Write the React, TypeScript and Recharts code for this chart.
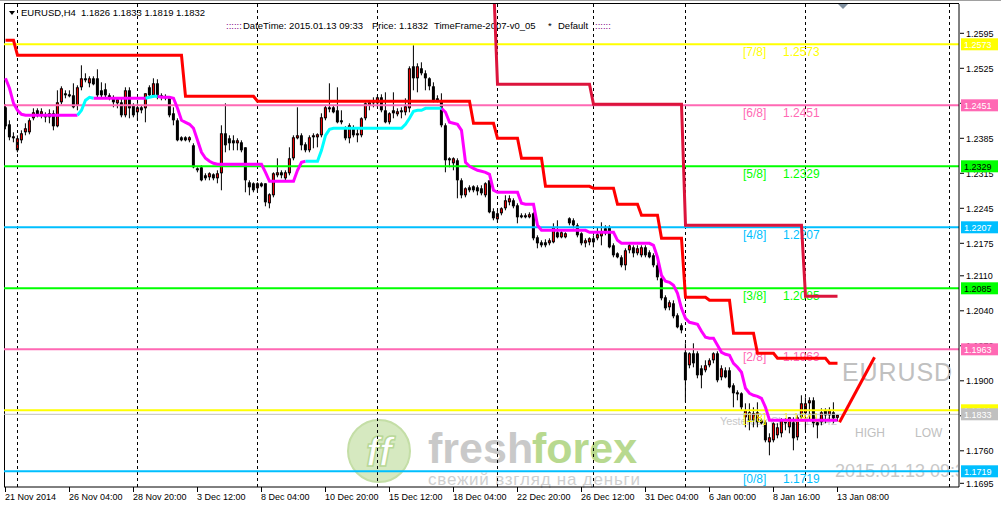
import React from 'react'
import { ComposedChart, Bar, Line, XAxis, YAxis, ReferenceLine } from 'recharts'

const W = 1001
const H = 507
const FONT = "'Liberation Sans', Arial, sans-serif"

// x axis: H4 bar index, a label every 16 bars
const timeTickBars = [0, 16, 32, 48, 64, 80, 96, 112, 128, 144, 160, 176, 192, 208]
const timeLabels = [
  '21 Nov 2014', '26 Nov 04:00', '28 Nov 20:00', '3 Dec 12:00', '8 Dec 04:00', '10 Dec 20:00',
  '15 Dec 12:00', '18 Dec 04:00', '22 Dec 20:00', '26 Dec 12:00', '31 Dec 04:00', '6 Jan 00:00',
  '8 Jan 16:00', '13 Jan 08:00',
]
// weekly separators (dashed)
const weekGridBars = [3, 33, 63, 93, 123, 147, 170, 200, 236]
const priceTicks = [1.2595, 1.2525, 1.2455, 1.2385, 1.2315, 1.2245, 1.2175, 1.211, 1.204, 1.197, 1.19, 1.183, 1.176, 1.1695]
const xDomain = [-0.375, 238.375]
const yDomain = [1.16876, 1.26536]

// EURUSD H4 candles
const opens = [
  1.2447, 1.2413, 1.2389, 1.2361, 1.2381, 1.2397, 1.2397, 1.2425, 1.2441, 1.2433,
  1.2433, 1.2427, 1.2435, 1.2409, 1.2457, 1.2475, 1.2473, 1.2471, 1.2451, 1.2487,
  1.2505, 1.2495, 1.2505, 1.2505, 1.2481, 1.2483, 1.2471, 1.2465, 1.2455, 1.2457,
  1.2431, 1.2481, 1.2451, 1.2437, 1.2447, 1.2445, 1.2487, 1.2471, 1.2495, 1.2471,
  1.2469, 1.2465, 1.2435, 1.2421, 1.2387, 1.2387, 1.2381, 1.2371, 1.2325, 1.2327,
  1.2311, 1.2307, 1.2313, 1.2305, 1.2315, 1.2395, 1.2385, 1.2381, 1.2375, 1.2377,
  1.2367, 1.2297, 1.2295, 1.2285, 1.2295, 1.2295, 1.2255, 1.2271, 1.2311, 1.2317,
  1.2305, 1.2315, 1.2345, 1.2385, 1.2391, 1.2373, 1.2361, 1.2387, 1.2387, 1.2391,
  1.2425, 1.2447, 1.2447, 1.2441, 1.2421, 1.2405, 1.2385, 1.2405, 1.2391, 1.2391,
  1.2425, 1.2451, 1.2457, 1.2455, 1.2467, 1.2441, 1.2417, 1.2441, 1.2433, 1.2441,
  1.2437, 1.2445, 1.2529, 1.2505, 1.2525, 1.2515, 1.2505, 1.2489, 1.2465, 1.2459,
  1.2411, 1.2345, 1.2335, 1.2341, 1.2301, 1.2271, 1.2287, 1.2289, 1.2287, 1.2285,
  1.2271, 1.2301, 1.2239, 1.2223, 1.2235, 1.2245, 1.2257, 1.2261, 1.2251, 1.2231,
  1.2227, 1.2227, 1.2235, 1.2187, 1.2177, 1.2177, 1.2175, 1.2177, 1.2197, 1.2187,
  1.2187, 1.2225, 1.2221, 1.2211, 1.2195, 1.2175, 1.2177, 1.2185, 1.2185, 1.2189,
  1.2205, 1.2207, 1.2171, 1.2155, 1.2147, 1.2131, 1.2161, 1.2167, 1.2155, 1.2151,
  1.2167, 1.2157, 1.2151, 1.2131, 1.2105, 1.2067, 1.2047, 1.2055, 1.2031, 1.2011,
  1.1957, 1.1931, 1.1955, 1.1955, 1.1925, 1.1921, 1.1931, 1.1941, 1.1955, 1.1907,
  1.1921, 1.1921, 1.1891, 1.1877, 1.1875, 1.1827, 1.1821, 1.1821, 1.1817, 1.1821,
  1.1817, 1.1777, 1.1781, 1.1791, 1.1795, 1.1821, 1.1807, 1.1817, 1.1787, 1.1827,
  1.1835, 1.1855, 1.1861, 1.1817, 1.1817, 1.1841, 1.1831, 1.1837, 1.1826,
]
const highs = [
  1.2453, 1.2421, 1.2397, 1.2391, 1.2401, 1.2415, 1.2425, 1.2445, 1.2445, 1.2445,
  1.2437, 1.2443, 1.2441, 1.2481, 1.2489, 1.2481, 1.2481, 1.2495, 1.2491, 1.2531,
  1.2515, 1.2509, 1.2509, 1.2523, 1.2497, 1.2495, 1.2475, 1.2471, 1.2465, 1.2465,
  1.2487, 1.2487, 1.2455, 1.2455, 1.2451, 1.2475, 1.2491, 1.2505, 1.2503, 1.2475,
  1.2473, 1.2465, 1.2447, 1.2425, 1.2389, 1.2389, 1.2389, 1.2375, 1.2327, 1.2331,
  1.2315, 1.2317, 1.2315, 1.2321, 1.2411, 1.2455, 1.2391, 1.2391, 1.2385, 1.2381,
  1.2367, 1.2301, 1.2297, 1.2297, 1.2297, 1.2295, 1.2275, 1.2317, 1.2345, 1.2321,
  1.2321, 1.2367, 1.2391, 1.2447, 1.2395, 1.2377, 1.2391, 1.2395, 1.2395, 1.2435,
  1.2451, 1.2495, 1.2451, 1.2487, 1.2441, 1.2409, 1.2415, 1.2411, 1.2405, 1.2427,
  1.2457, 1.2461, 1.2467, 1.2471, 1.2473, 1.2477, 1.2437, 1.2477, 1.2445, 1.2447,
  1.2465, 1.2529, 1.2571, 1.2535, 1.2537, 1.2521, 1.2507, 1.2497, 1.2471, 1.2475,
  1.2415, 1.2347, 1.2347, 1.2345, 1.2305, 1.2287, 1.2291, 1.2291, 1.2291, 1.2291,
  1.2297, 1.2301, 1.2245, 1.2241, 1.2247, 1.2271, 1.2271, 1.2265, 1.2255, 1.2235,
  1.2235, 1.2237, 1.2237, 1.2191, 1.2181, 1.2183, 1.2185, 1.2215, 1.2221, 1.2201,
  1.2197, 1.2227, 1.2225, 1.2215, 1.2197, 1.2185, 1.2187, 1.2191, 1.2207, 1.2217,
  1.2211, 1.2211, 1.2175, 1.2157, 1.2151, 1.2165, 1.2175, 1.2171, 1.2171, 1.2171,
  1.2171, 1.2161, 1.2155, 1.2137, 1.2109, 1.2071, 1.2061, 1.2061, 1.2035, 1.2015,
  1.1975, 1.1957, 1.1975, 1.1959, 1.1931, 1.1941, 1.1945, 1.1957, 1.1959, 1.1931,
  1.1927, 1.1927, 1.1895, 1.1881, 1.1877, 1.1855, 1.1855, 1.1847, 1.1857, 1.1825,
  1.1821, 1.1795, 1.1817, 1.1815, 1.1825, 1.1825, 1.1827, 1.1827, 1.1831, 1.1871,
  1.1867, 1.1867, 1.1867, 1.1821, 1.1845, 1.1845, 1.1847, 1.1857, 1.1833,
]
const lows = [
  1.2403, 1.2381, 1.2377, 1.2357, 1.2375, 1.2391, 1.2393, 1.2421, 1.2427, 1.2425,
  1.2417, 1.2415, 1.2401, 1.2407, 1.2453, 1.2465, 1.2467, 1.2445, 1.2441, 1.2481,
  1.2497, 1.2487, 1.2491, 1.2467, 1.2467, 1.2467, 1.2461, 1.2447, 1.2445, 1.2427,
  1.2427, 1.2425, 1.2427, 1.2421, 1.2435, 1.2417, 1.2467, 1.2467, 1.2463, 1.2461,
  1.2461, 1.2427, 1.2411, 1.2379, 1.2379, 1.2379, 1.2377, 1.2325, 1.2317, 1.2299,
  1.2301, 1.2301, 1.2301, 1.2295, 1.2281, 1.2357, 1.2361, 1.2361, 1.2361, 1.2357,
  1.2277, 1.2271, 1.2277, 1.2277, 1.2287, 1.2249, 1.2245, 1.2267, 1.2307, 1.2305,
  1.2301, 1.2311, 1.2341, 1.2383, 1.2361, 1.2357, 1.2357, 1.2365, 1.2367, 1.2387,
  1.2421, 1.2437, 1.2435, 1.2415, 1.2413, 1.2381, 1.2375, 1.2387, 1.2377, 1.2387,
  1.2421, 1.2441, 1.2447, 1.2447, 1.2437, 1.2415, 1.2413, 1.2425, 1.2429, 1.2425,
  1.2431, 1.2437, 1.2481, 1.2477, 1.2511, 1.2481, 1.2481, 1.2457, 1.2457, 1.2407,
  1.2317, 1.2327, 1.2321, 1.2265, 1.2265, 1.2267, 1.2277, 1.2277, 1.2271, 1.2271,
  1.2267, 1.2235, 1.2221, 1.2217, 1.2231, 1.2241, 1.2251, 1.2245, 1.2215, 1.2225,
  1.2225, 1.2225, 1.2181, 1.2165, 1.2167, 1.2167, 1.2171, 1.2175, 1.2185, 1.2185,
  1.2185, 1.2211, 1.2205, 1.2187, 1.2171, 1.2167, 1.2171, 1.2167, 1.2181, 1.2171,
  1.2191, 1.2165, 1.2147, 1.2145, 1.2127, 1.2121, 1.2155, 1.2147, 1.2151, 1.2147,
  1.2147, 1.2145, 1.2127, 1.2101, 1.2061, 1.2041, 1.2041, 1.2025, 1.2005, 1.1995,
  1.1857, 1.1925, 1.1927, 1.1905, 1.1885, 1.1917, 1.1927, 1.1935, 1.1897, 1.1901,
  1.1905, 1.1885, 1.1847, 1.1861, 1.1841, 1.1807, 1.1801, 1.1807, 1.1807, 1.1813,
  1.1777, 1.1751, 1.1777, 1.1785, 1.1787, 1.1801, 1.1795, 1.1761, 1.1781, 1.1821,
  1.1801, 1.1821, 1.1807, 1.1785, 1.1811, 1.1815, 1.1821, 1.1815, 1.1819,
]
const closes = [
  1.2409, 1.2387, 1.2385, 1.2385, 1.2395, 1.2405, 1.2421, 1.2437, 1.2431, 1.2439,
  1.2427, 1.2435, 1.2409, 1.2457, 1.2485, 1.2471, 1.2469, 1.2447, 1.2487, 1.2505,
  1.2501, 1.2505, 1.2493, 1.2471, 1.2471, 1.2471, 1.2465, 1.2457, 1.2463, 1.2431,
  1.2481, 1.2445, 1.2431, 1.2447, 1.2441, 1.2475, 1.2471, 1.2495, 1.2467, 1.2467,
  1.2465, 1.2431, 1.2421, 1.2381, 1.2381, 1.2381, 1.2387, 1.2327, 1.2321, 1.2301,
  1.2305, 1.2315, 1.2305, 1.2315, 1.2395, 1.2371, 1.2375, 1.2375, 1.2381, 1.2361,
  1.2301, 1.2287, 1.2281, 1.2295, 1.2289, 1.2257, 1.2273, 1.2315, 1.2317, 1.2311,
  1.2317, 1.2345, 1.2387, 1.2391, 1.2371, 1.2361, 1.2387, 1.2391, 1.2393, 1.2427,
  1.2447, 1.2443, 1.2437, 1.2417, 1.2417, 1.2385, 1.2411, 1.2391, 1.2395, 1.2425,
  1.2455, 1.2457, 1.2455, 1.2467, 1.2441, 1.2417, 1.2435, 1.2435, 1.2439, 1.2437,
  1.2449, 1.2525, 1.2505, 1.2529, 1.2515, 1.2505, 1.2489, 1.2461, 1.2459, 1.2411,
  1.2341, 1.2341, 1.2345, 1.2301, 1.2271, 1.2285, 1.2281, 1.2281, 1.2279, 1.2275,
  1.2295, 1.2237, 1.2225, 1.2235, 1.2245, 1.2261, 1.2265, 1.2249, 1.2227, 1.2227,
  1.2231, 1.2233, 1.2185, 1.2175, 1.2171, 1.2171, 1.2181, 1.2207, 1.2187, 1.2197,
  1.2195, 1.2215, 1.2211, 1.2191, 1.2175, 1.2181, 1.2185, 1.2177, 1.2193, 1.2197,
  1.2195, 1.2167, 1.2151, 1.2147, 1.2131, 1.2161, 1.2171, 1.2155, 1.2165, 1.2167,
  1.2151, 1.2147, 1.2131, 1.2107, 1.2065, 1.2045, 1.2057, 1.2029, 1.2007, 1.2001,
  1.1901, 1.1955, 1.1935, 1.1911, 1.1911, 1.1931, 1.1941, 1.1955, 1.1901, 1.1925,
  1.1907, 1.1887, 1.1875, 1.1873, 1.1847, 1.1841, 1.1837, 1.1835, 1.1837, 1.1815,
  1.1781, 1.1787, 1.1815, 1.1807, 1.1821, 1.1815, 1.1827, 1.1785, 1.1827, 1.1855,
  1.1855, 1.1861, 1.1815, 1.1811, 1.1837, 1.1831, 1.1841, 1.1825, 1.1832,
]

// colored moving average (cyan while rising)
const maLine = [
  1.2505, 1.2485, 1.2455, 1.2441, 1.2433, 1.2431, 1.2431, 1.2431, 1.2431, 1.2431,
  1.2431, 1.2431, 1.2431, 1.2431, 1.2431, 1.2431, 1.2431, 1.2431, 1.2431, 1.2441,
  1.2461, 1.2467, 1.2465, 1.2465, 1.2465, 1.2465, 1.2465, 1.2465, 1.2465, 1.2465,
  1.2465, 1.2465, 1.2465, 1.2465, 1.2465, 1.2465, 1.2467, 1.2469, 1.2469, 1.2467,
  1.2467, 1.2467, 1.2465, 1.2445, 1.2421, 1.2417, 1.2413, 1.2405, 1.2381, 1.2357,
  1.2345, 1.2339, 1.2335, 1.2333, 1.2333, 1.2333, 1.2333, 1.2333, 1.2333, 1.2333,
  1.2333, 1.2333, 1.2333, 1.2333, 1.2333, 1.2317, 1.2299, 1.2299, 1.2299, 1.2299,
  1.2299, 1.2299, 1.2299, 1.2321, 1.2337, 1.2339, 1.2339, 1.2339, 1.2339, 1.2361,
  1.2391, 1.2403, 1.2405, 1.2405, 1.2405, 1.2405, 1.2405, 1.2405, 1.2405, 1.2405,
  1.2405, 1.2405, 1.2405, 1.2405, 1.2405, 1.2405, 1.2405, 1.2405, 1.2405, 1.2405,
  1.2413, 1.2425, 1.2439, 1.2441, 1.2441, 1.2445, 1.2445, 1.2445, 1.2445, 1.2445,
  1.2437, 1.2417, 1.2415, 1.2413, 1.2401, 1.2337, 1.2329, 1.2325, 1.2321, 1.2319,
  1.2317, 1.2313, 1.2281, 1.2277, 1.2277, 1.2277, 1.2277, 1.2277, 1.2277, 1.2255,
  1.2253, 1.2253, 1.2253, 1.2211, 1.2201, 1.2201, 1.2201, 1.2201, 1.2201, 1.2201,
  1.2201, 1.2201, 1.2201, 1.2201, 1.2201, 1.2201, 1.2197, 1.2197, 1.2197, 1.2197,
  1.2197, 1.2197, 1.2197, 1.2181, 1.2175, 1.2175, 1.2175, 1.2175, 1.2175, 1.2175,
  1.2175, 1.2175, 1.2171, 1.2147, 1.2111, 1.2099, 1.2097, 1.2091, 1.2075, 1.2045,
  1.2025, 1.2017, 1.2015, 1.2013, 1.1999, 1.1987, 1.1985, 1.1985, 1.1971, 1.1957,
  1.1953, 1.1951, 1.1935, 1.1927, 1.1917, 1.1885, 1.1875, 1.1871, 1.1869, 1.1865,
  1.1847, 1.1821, 1.1821, 1.1821, 1.1821, 1.1821, 1.1821, 1.1821, 1.1821, 1.1821,
  1.1821, 1.1821, 1.1821, 1.1821, 1.1821, 1.1821, 1.1821, 1.1821, 1.1821,
]
const cyanRanges = [[18, 22], [35, 38], [75, 109]]

// stop lines: bar where each step starts, and its level
const redStepBars = [0, 3, 45, 63, 117, 123, 129, 135, 147, 153, 159, 164, 170, 176, 182, 188, 193, 206]
const redStepLevels = [1.2581, 1.2551, 1.2469, 1.2459, 1.2415, 1.2385, 1.2345, 1.2289, 1.2285, 1.2253, 1.2231, 1.2185, 1.2067, 1.2061, 1.1995, 1.1955, 1.1945, 1.1935]
const crimsonStepBars = [122, 123, 147, 170, 200]
const crimsonStepLevels = [1.27, 1.2493, 1.2453, 1.2211, 1.2069]

const projection = [
  { i: 208.5, p: 1.1817 },
  { i: 217.25, p: 1.1947 },
]

// Murrey math levels
const levelPrices = [1.2573, 1.2451, 1.2329, 1.2207, 1.2085, 1.1963, 1.1841, 1.1719]
const levelNames = ['[7/8]', '[6/8]', '[5/8]', '[4/8]', '[3/8]', '[2/8]', '[1/8]', '[0/8]']
const levelColors = ['#FFFF00', '#FF69B4', '#00FF00', '#00BFFF', '#00FF00', '#FF69B4', '#FFFF00', '#00BFFF']
const levelTextColors = ['#FFFFFF', '#FFFFFF', '#000000', '#FFFFFF', '#000000', '#FFFFFF', '#FFFFFF', '#FFFFFF']
const bidPrice = 1.1833

const stepAt = (bars: number[], levels: number[], i: number) => {
  let v: number | null = null
  bars.forEach((b, k) => {
    if (b <= i) v = levels[k]
  })
  return v
}

const rows = opens.map((o, i) => {
  const inside = cyanRanges.some(([a, b]) => i > a && i < b)
  const onCyan = cyanRanges.some(([a, b]) => i >= a && i <= b)
  return {
    i,
    o,
    h: highs[i],
    l: lows[i],
    c: closes[i],
    range: [lows[i], highs[i]],
    maMag: inside ? null : maLine[i],
    maCyan: onCyan ? maLine[i] : null,
    red: stepAt(redStepBars, redStepLevels, i),
    crimson: stepAt(crimsonStepBars, crimsonStepLevels, i),
  }
})

function Candle(props: any) {
  const { x, y, width, height, payload } = props
  if (x == null || !payload) return null
  const { o, h, l, c } = payload
  const cx = x + width / 2
  const span = h - l || 1e-9
  const py = (p: number) => y + ((h - p) / span) * height
  const top = py(Math.max(o, c))
  const bh = Math.max(1, py(Math.min(o, c)) - top)
  return (
    <g>
      <rect x={cx - 0.5} y={y} width={1} height={Math.max(1, height)} fill="#000" />
      {c >= o ? (
        <rect x={cx - 1} y={top + 0.5} width={2} height={Math.max(0.5, bh - 1)} fill="#FF0000" stroke="#000" strokeWidth={1} />
      ) : (
        <rect x={cx - 1.5} y={top} width={3} height={bh} fill="#000" />
      )}
    </g>
  )
}

function TimeTick(props: any) {
  const { x, y, payload } = props
  const k = timeTickBars.indexOf(payload.value)
  return (
    <g>
      <line x1={x} x2={x} y1={y - 8} y2={y - 3} stroke="#000" />
      <text x={x - 0.5} y={y + 5} fontSize={9} fontFamily={FONT} fill="#000">
        {timeLabels[k]}
      </text>
    </g>
  )
}

function PriceTick(props: any) {
  const { x, y, payload } = props
  return (
    <g>
      <line x1={x - 7} x2={x - 3} y1={y} y2={y} stroke="#000" />
      <text x={x - 1} y={y + 3.5} fontSize={9} fontFamily={FONT} fill="#000">
        {payload.value.toFixed(4)}
      </text>
    </g>
  )
}

// level name and price written inside the plot, under the line
function InnerTag(props: any) {
  const { viewBox, lvlPrice, lvlName, lvlColor } = props
  if (!viewBox) return null
  const { x, y } = viewBox
  return (
    <g>
      <text x={x + 739} y={y + 12} fill={lvlColor} fontSize={12} fontFamily={FONT}>
        {lvlName}
      </text>
      <text x={x + 779} y={y + 12} fill={lvlColor} fontSize={12} fontFamily={FONT}>
        {lvlPrice.toFixed(4)}
      </text>
    </g>
  )
}

// coloured price box on the right scale
function BoxTag(props: any) {
  const { viewBox, lvlPrice, lvlColor, lvlText } = props
  if (!viewBox) return null
  const { x, y, width } = viewBox
  const right = x + width
  return (
    <g>
      <rect x={right + 2} y={y - 6} width={37} height={12} fill={lvlColor} />
      <text x={right + 5} y={y + 3.5} fill={lvlText} fontSize={9} fontFamily={FONT}>
        {lvlPrice.toFixed(4)}
      </text>
    </g>
  )
}

function Backdrop() {
  return (
    <svg width={W} height={H} style={{ position: 'absolute', left: 0, top: 0 }}>
      <rect x={0} y={0} width={W} height={1} fill="#a0a0a0" />
      <rect x={4} y={3} width={955} height={1} fill="#000" />
      <rect x={4} y={3} width={1} height={484} fill="#000" />
      <polygon points="9,11 15,11 12,15" fill="#000" />
      <text x={21} y={16} fontSize={9.5} fontFamily={FONT} fill="#000">EURUSD,H4</text>
      <text x={81} y={16} fontSize={9.5} fontFamily={FONT} fill="#000">1.1826 1.1833 1.1819 1.1832</text>
      <text x={226} y={28.5} fontSize={9.5} fontFamily={FONT} fill="#800080">::::::</text>
      <text x={243} y={28.5} fontSize={9.5} fontFamily={FONT} fill="#000">DateTime: 2015.01.13 09:33</text>
      <text x={372} y={28.5} fontSize={9.5} fontFamily={FONT} fill="#000">Price: 1.1832</text>
      <text x={434} y={28.5} fontSize={9.5} fontFamily={FONT} fill="#000">TimeFrame-2007-v0_05</text>
      <text x={548} y={28.5} fontSize={9.5} fontFamily={FONT} fill="#000">*</text>
      <text x={558} y={28.5} fontSize={9.5} fontFamily={FONT} fill="#000">Default</text>
      <text x={595} y={28.5} fontSize={9.5} fontFamily={FONT} fill="#800080">::::::</text>
      <polygon points="838,4 848,4 843,9" fill="#8090a0" />

      <circle cx={379} cy={451} r={31} fill="#d6e9c0" stroke="#c4dea6" strokeWidth={2} />
      <text x={379} y={466} textAnchor="middle" fontSize={40} fontWeight="bold" fontStyle="italic" fontFamily={FONT} fill="#ffffff" stroke="#b9d897" strokeWidth={1.5}>ff</text>
      <text x={428} y={463} fontSize={43} fontWeight="bold" fontFamily={FONT} fill="#c9c9c9">fresh</text>
      <text x={532} y={463} fontSize={43} fontWeight="bold" fontFamily={FONT} fill="#b8d98f">forex</text>
      <text x={428} y={485} fontSize={17} fontFamily={FONT} fill="#cfcfcf" textLength={212}>свежий взгляд на деньги</text>

      <text x={842} y={381} fontSize={25} fontFamily={FONT} fill="#c0c0c0" textLength={110}>EURUSD</text>
      <text x={720} y={425} fontSize={11} fontFamily={FONT} fill="#c8c8c8" textLength={117}>Yesterday Close: 1.1842</text>
      <text x={855} y={437} fontSize={12} fontFamily={FONT} fill="#c0c0c0">HIGH</text>
      <text x={915} y={437} fontSize={12} fontFamily={FONT} fill="#c0c0c0">LOW</text>
      <svg x={0} y={0} width={958} height={H}>
        <text x={835} y={477} fontSize={18} fontFamily={FONT} fill="#c8c8c8">2015.01.13 09:33</text>
      </svg>
    </svg>
  )
}

export default function App() {
  return (
    <div style={{ position: 'absolute', left: 0, top: 0, width: W, height: H, background: '#fff', overflow: 'hidden' }}>
      <Backdrop />
      <div style={{ position: 'absolute', left: 0, top: 0 }}>
        <ComposedChart width={W} height={H} data={rows} margin={{ top: 4, right: 0, bottom: 0, left: 4 }}>
          <XAxis
            dataKey="i"
            type="number"
            domain={xDomain}
            allowDataOverflow
            ticks={timeTickBars}
            interval={0}
            tick={<TimeTick />}
            tickLine={false}
            axisLine={{ stroke: '#000' }}
            height={20}
          />
          <YAxis
            orientation="right"
            type="number"
            domain={yDomain}
            allowDataOverflow
            ticks={priceTicks}
            interval={0}
            tick={<PriceTick />}
            tickLine={false}
            axisLine={{ stroke: '#000' }}
            width={42}
          />
          {weekGridBars.map((b) => (
            <ReferenceLine key={'g' + b} x={b} stroke="#000" strokeDasharray="3 3" />
          ))}
          {levelPrices.map((p, k) => (
            <ReferenceLine
              key={'l' + k}
              y={p}
              stroke={levelColors[k]}
              strokeWidth={2}
              label={<InnerTag lvlPrice={p} lvlName={levelNames[k]} lvlColor={levelColors[k]} />}
            />
          ))}
          <ReferenceLine y={bidPrice} stroke="#c0c0c0" strokeWidth={1} />
          <Bar dataKey="range" barSize={3} shape={<Candle />} isAnimationActive={false} />
          <Line dataKey="maMag" stroke="#FF00FF" strokeWidth={3} dot={false} isAnimationActive={false} />
          <Line dataKey="maCyan" stroke="#00FFFF" strokeWidth={3} dot={false} isAnimationActive={false} />
          <Line dataKey="crimson" stroke="#DC143C" strokeWidth={3} dot={false} isAnimationActive={false} />
          <Line dataKey="red" stroke="#FF0000" strokeWidth={3} dot={false} isAnimationActive={false} />
          <Line data={projection} dataKey="p" stroke="#FF0000" strokeWidth={3} dot={false} isAnimationActive={false} />
        </ComposedChart>
      </div>
      {/* price boxes sit above the scale labels */}
      <div style={{ position: 'absolute', left: 0, top: 0, pointerEvents: 'none' }}>
        <ComposedChart width={W} height={H} data={rows} margin={{ top: 4, right: 42, bottom: 20, left: 4 }}>
          <XAxis dataKey="i" type="number" domain={xDomain} allowDataOverflow hide />
          <YAxis type="number" domain={yDomain} allowDataOverflow hide />
          {levelPrices.map((p, k) => (
            <ReferenceLine
              key={'b' + k}
              y={p}
              stroke="none"
              label={<BoxTag lvlPrice={p} lvlColor={levelColors[k]} lvlText={levelTextColors[k]} />}
            />
          ))}
          <ReferenceLine
            y={bidPrice}
            stroke="none"
            label={<BoxTag lvlPrice={bidPrice} lvlColor="#c0c0c0" lvlText="#ffffff" />}
          />
        </ComposedChart>
      </div>
    </div>
  )
}
